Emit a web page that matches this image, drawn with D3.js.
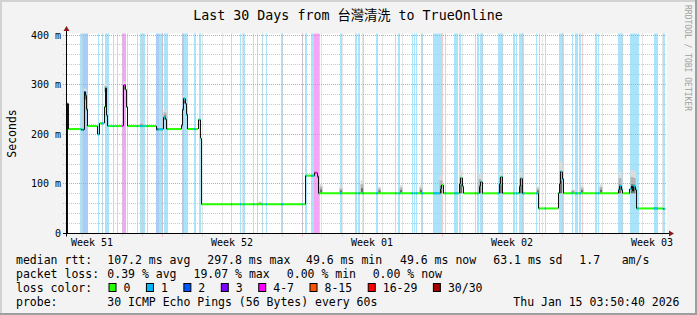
<!DOCTYPE html>
<html>
<head>
<meta charset="utf-8">
<script src="https://cdn.jsdelivr.net/npm/d3@7"></script>
<style>
body { margin: 0; background: #fff; }
svg { display: block; }
text { font-family: "DejaVu Sans Mono", "Noto Sans CJK TC", monospace; fill: #000; }
</style>
</head>
<body>
<svg id="chart" width="697" height="315"></svg>
<script>
// ---- data (days from the left edge of the 30 day window, values in ms) ----
var title = "Last 30 Days from 台灣清洗 to TrueOnline";
var yTicks = [0, 100, 200, 300, 400];
var yTickLabels = ["0", "100 m", "200 m", "300 m", "400 m"];
var weekDays = [1.25, 8.25, 15.25, 22.25, 29.25];
var weekLabels = ["Week 51", "Week 52", "Week 01", "Week 02", "Week 03"];
var weekStarts = [4.75, 11.75, 18.75, 25.75];

var median = [
	[0.00, 262], [0.05, 210.5], [0.70, 209], [0.85, 285], [0.93, 278], [0.98, 250],
	[1.03, 216.5], [1.53, 200], [1.62, 222], [1.85, 255], [1.92, 293], [1.98, 238],
	[2.03, 216.5], [2.80, 265], [2.84, 299], [2.93, 290], [2.96, 255], [3.03, 216.5],
	[4.45, 210], [4.80, 234], [4.92, 230], [4.98, 210.5], [5.73, 218], [5.78, 250],
	[5.83, 272], [5.90, 262], [5.95, 240], [6.03, 210.5], [6.55, 229], [6.67, 192],
	[6.70, 59], [11.93, 116.5], [12.37, 122.5], [12.50, 115], [12.57, 81],
	[18.67, 90], [18.73, 97.7], [18.80, 81],
	[19.60, 100], [19.67, 112], [19.77, 95], [19.83, 81],
	[20.60, 95], [20.67, 104], [20.75, 81],
	[21.60, 100], [21.68, 114], [21.78, 81],
	[22.60, 95], [22.67, 111], [22.75, 81],
	[23.58, 50.5], [24.55, 81], [24.60, 100], [24.65, 124.5], [24.75, 110], [24.82, 81],
	[27.55, 88], [27.62, 95.7], [27.72, 88], [27.78, 81],
	[28.15, 90], [28.20, 96], [28.28, 85], [28.33, 95], [28.40, 88],
	[28.48, 50.5], [29.80, 49.6]
];
var medianEnd = 29.93;

// [start, end, loss level]
var lossStripes = [
	[0.67, 0.78, 1], [0.78, 1.03, 2], [1.53, 1.62, 1], [1.73, 1.82, 1], [1.90, 2.08, 1],
	[2.28, 2.33, 1], [2.48, 2.53, 1], [2.75, 2.95, 4], [2.98, 3.05, 1], [3.48, 3.55, 1],
	[3.65, 3.78, 1], [3.82, 3.88, 1], [3.98, 4.05, 1], [4.45, 4.58, 2], [4.62, 4.80, 1],
	[4.85, 5.05, 1], [5.73, 5.85, 2], [5.85, 6.03, 1], [6.33, 6.45, 1], [6.58, 6.68, 1],
	[8.20, 8.25, 1], [8.65, 8.72, 1], [8.82, 8.88, 1], [9.32, 9.37, 1], [9.50, 9.55, 1],
	[9.73, 9.78, 1], [9.95, 10.00, 1], [10.70, 10.82, 1], [11.73, 11.78, 1], [11.92, 11.98, 1],
	[12.20, 12.37, 1], [12.37, 12.58, 4], [12.58, 12.65, 1], [13.65, 13.75, 1], [14.42, 14.48, 1],
	[14.57, 14.65, 1], [14.78, 14.85, 1], [15.45, 15.55, 1], [16.40, 16.47, 1], [16.57, 16.67, 1],
	[17.23, 17.30, 1], [17.37, 17.42, 1], [17.45, 17.52, 1], [17.70, 17.82, 1], [18.32, 18.75, 1],
	[18.90, 18.97, 1], [19.37, 19.53, 1], [19.58, 19.70, 1], [20.40, 20.45, 1], [20.50, 20.58, 1],
	[20.65, 20.78, 1], [21.53, 21.82, 1], [22.32, 22.38, 1], [22.45, 22.52, 1], [22.58, 22.87, 1],
	[23.45, 23.52, 1], [23.58, 23.65, 1], [23.88, 23.95, 1], [24.58, 24.83, 1], [25.23, 25.28, 1],
	[25.42, 25.53, 1], [25.62, 25.70, 1], [26.42, 26.48, 1], [26.53, 26.62, 1], [27.53, 27.78, 1],
	[28.15, 28.58, 1], [29.33, 29.55, 1], [29.78, 29.88, 1]
];

// [day, low, high] of the ping spread
var smoke = [
	[0.90, 270, 292], [1.95, 285, 302], [2.86, 290, 306], [3.73, 216, 224], [4.90, 230, 250],
	[5.85, 262, 278], [9.65, 59, 64],
	[12.70, 81, 100], [13.70, 81, 95], [14.75, 81, 107], [15.62, 81, 94], [16.70, 81, 97],
	[17.70, 81, 97], [18.70, 81, 118], [19.70, 81, 127], [20.65, 81, 122], [21.68, 81, 127],
	[22.68, 81, 122], [23.55, 81, 95], [24.70, 81, 145], [25.30, 81, 89], [25.75, 81, 97],
	[26.70, 81, 99], [27.65, 81, 125], [28.25, 81, 128], [28.36, 81, 125]
];

var rttLabel = "median rtt:";
var rttStats = ["107.2 ms avg", "297.8 ms max", "49.6 ms min", "49.6 ms now", "63.1 ms sd", "1.7", "am/s"];
var lossLabel = "packet loss:";
var lossStats = ["0.39 % avg", "19.07 % max", "0.00 % min", "0.00 % now"];
var colorLabel = "loss color:";
var lossNames = ["0", "1", "2", "3", "4-7", "8-15", "16-29", "30/30"];
var lossColors = ["#26ff00", "#00b8ff", "#0059ff", "#7e00ff", "#ff00ff", "#ff5500", "#ff0000", "#a10000"];
var probeLabel = "probe:";
var probeText = "30 ICMP Echo Pings (56 Bytes) every 60s";
var stamp = "Thu Jan 15 03:50:40 2026";

// ---- layout ----
var W = 697, H = 315;
var plot = { left: 67, right: 667, top: 33.5, bottom: 233.5 };
var stripeFill = { 1: "#aae3fa", 2: "#a8cdf7", 4: "#f4a6f4" };
var lineColor = { 1: "#00b8ff", 2: "#0059ff", 4: "#ff00ff" };

var svg = d3.select("#chart");
var x = d3.scaleLinear().domain([0, 30]).range([plot.left, plot.right]);
var y = d3.scaleLinear().domain([0, 400]).range([plot.bottom, 35]);
var px = v => Math.floor(v) + 0.5;

svg.append("rect").attr("width", W).attr("height", H).attr("fill", "#f3f3f3");
// frame
svg.append("path").attr("d", `M1,${H} V1 H${W}`).attr("stroke", "#d2d2d2").attr("stroke-width", 2).attr("fill", "none");
svg.append("path").attr("d", `M0,${H - 1} H${W - 1} V0`).attr("stroke", "#9e9e9e").attr("stroke-width", 2).attr("fill", "none");

svg.append("rect")
	.attr("x", plot.left).attr("y", plot.top)
	.attr("width", plot.right - plot.left).attr("height", plot.bottom - plot.top)
	.attr("fill", "#fff");

// loss background stripes
svg.append("g").selectAll("rect")
	.data(lossStripes)
	.join("rect")
	.attr("x", d => Math.round(x(d[0])))
	.attr("width", d => Math.max(1, Math.round(x(d[1])) - Math.round(x(d[0]))))
	.attr("y", plot.top)
	.attr("height", plot.bottom - plot.top)
	.attr("fill", d => stripeFill[d[2]]);

// grid
var grid = svg.append("g").attr("stroke-dasharray", "1,1").attr("stroke-width", 1);
var yMinor = d3.range(20, 401, 20).filter(v => v % 100 != 0);
grid.selectAll(".ymin").data(yMinor).join("line")
	.attr("x1", plot.left - 4).attr("x2", plot.right)
	.attr("y1", d => px(y(d))).attr("y2", d => px(y(d)))
	.attr("stroke", "#c8c8c8");
var xMinor = d3.range(0.75, 30, 1).filter(d => weekStarts.indexOf(d) < 0);
grid.selectAll(".xmin").data(xMinor).join("line")
	.attr("x1", d => px(x(d))).attr("x2", d => px(x(d)))
	.attr("y1", plot.top).attr("y2", plot.bottom + 3)
	.attr("stroke", "#c8c8c8");
grid.selectAll(".ymaj").data(yTicks.slice(1)).join("line")
	.attr("x1", plot.left - 4).attr("x2", plot.right)
	.attr("y1", d => px(y(d))).attr("y2", d => px(y(d)))
	.attr("stroke", "#e79a9a");
grid.selectAll(".xmaj").data(weekStarts).join("line")
	.attr("x1", d => px(x(d))).attr("x2", d => px(x(d)))
	.attr("y1", plot.top).attr("y2", plot.bottom + 3)
	.attr("stroke", "#e79a9a");

// smoke: pale outer spread, darker core near the median
var sm = svg.append("g");
var smokeLayers = [[1.0, 3, "#dcdcdc"], [0.7, 3, "#b4b4b4"], [0.4, 2, "#6e6e6e"]];
smokeLayers.forEach(l => {
	sm.selectAll(null).data(smoke).join("rect")
		.attr("x", d => x(d[0]) - l[1] / 2).attr("width", l[1])
		.attr("y", d => y(d[1] + (d[2] - d[1]) * l[0]))
		.attr("height", d => y(d[1]) - y(d[1] + (d[2] - d[1]) * l[0]))
		.attr("fill", l[2]);
});

// median line
var segs = median.map((d, i) => ({
	d0: d[0], d1: i < median.length - 1 ? median[i + 1][0] : medianEnd, v: d[1]
}));
var med = svg.append("g");
med.selectAll(".h").data(segs).join("line")
	.attr("x1", d => x(d.d0)).attr("x2", d => x(d.d1))
	.attr("y1", d => y(d.v)).attr("y2", d => y(d.v))
	.attr("stroke", lossColors[0]).attr("stroke-width", 2);
var lossSegs = [];
for (let s of lossStripes) {
	for (let g of segs) {
		let a = Math.max(g.d0, s[0]), b = Math.min(g.d1, s[1]);
		if (b > a) lossSegs.push({ d0: a, d1: b, v: g.v, lvl: s[2] });
	}
}
med.selectAll(".l").data(lossSegs).join("line")
	.attr("x1", d => x(d.d0)).attr("x2", d => x(d.d1))
	.attr("y1", d => y(d.v)).attr("y2", d => y(d.v))
	.attr("stroke", d => lineColor[d.lvl]).attr("stroke-width", 2);
med.selectAll(".v").data(segs.slice(1).map((d, i) => ({ d: d.d0, a: segs[i].v, b: d.v }))).join("line")
	.attr("x1", d => px(x(d.d))).attr("x2", d => px(x(d.d)))
	.attr("y1", d => y(d.a)).attr("y2", d => y(d.b))
	.attr("stroke", "#111").attr("stroke-width", 1);
// first sample rises from the axis
med.append("line")
	.attr("x1", px(x(0))).attr("x2", px(x(0)))
	.attr("y1", plot.bottom).attr("y2", y(median[0][1]))
	.attr("stroke", "#111");

// axes
svg.append("line").attr("x1", plot.left - 4).attr("x2", 670).attr("y1", plot.bottom).attr("y2", plot.bottom).attr("stroke", "#000");
svg.append("line").attr("x1", px(plot.left - 1)).attr("x2", px(plot.left - 1)).attr("y1", plot.bottom + 3).attr("y2", 30).attr("stroke", "#000");
svg.append("path").attr("d", "M63.5,31 L69.5,31 L66.5,26 Z").attr("fill", "#8b1a1a");
svg.append("path").attr("d", "M669,230.5 L669,236.5 L674,233.5 Z").attr("fill", "#8b1a1a");

svg.append("g").selectAll("text").data(yTicks).join("text")
	.attr("x", 61).attr("y", d => y(d) + 3.5)
	.attr("text-anchor", "end").attr("font-size", "10px")
	.text((d, i) => yTickLabels[i]);

svg.append("g").selectAll("text").data(weekDays).join("text")
	.attr("x", d => x(d)).attr("y", 246)
	.attr("text-anchor", "middle").attr("font-size", "10px")
	.text((d, i) => weekLabels[i]);

svg.append("text")
	.attr("transform", "translate(15.5, 133.5) rotate(-90)")
	.attr("text-anchor", "middle").attr("font-size", "11.5px")
	.text("Seconds");

svg.append("text")
	.attr("transform", "translate(685, 5) rotate(90)")
	.attr("font-size", "8px").style("fill", "#a0a0a0")
	.text("RRDTOOL / TOBI OETIKER");

svg.append("text")
	.attr("x", 348).attr("y", 19.5)
	.attr("text-anchor", "middle").attr("font-size", "13.3px")
	.text(title);

// legend
var lg = svg.append("g").attr("font-size", "11.5px");
var rows = [263.5, 277.5, 291.5, 305.5];
var rttCols = [107.3, 207.3, 306, 400, 493.3, 579.3, 621.7];
var lossCols = [107.3, 193.5, 286.8, 372.7];
lg.append("text").attr("x", 16).attr("y", rows[0]).text(rttLabel);
rttStats.forEach((t, i) => lg.append("text").attr("x", rttCols[i]).attr("y", rows[0]).text(t));
lg.append("text").attr("x", 16).attr("y", rows[1]).text(lossLabel);
lossStats.forEach((t, i) => lg.append("text").attr("x", lossCols[i]).attr("y", rows[1]).text(t));
lg.append("text").attr("x", 16).attr("y", rows[2]).text(colorLabel);
var bx = 108.5;
lossNames.forEach((n, i) => {
	lg.append("rect").attr("x", bx + 0.5).attr("y", rows[2] - 8).attr("width", 7).attr("height", 8)
		.attr("fill", lossColors[i]).attr("stroke", "#000").attr("stroke-width", 1);
	lg.append("text").attr("x", bx + 15).attr("y", rows[2]).text(n);
	bx = bx + 15 + n.length * 6.93 + 15.5;
});
lg.append("text").attr("x", 16).attr("y", rows[3]).text(probeLabel);
lg.append("text").attr("x", 107.3).attr("y", rows[3]).text(probeText);
lg.append("text").attr("x", 513.3).attr("y", rows[3]).text(stamp);
</script>
</body>
</html>
